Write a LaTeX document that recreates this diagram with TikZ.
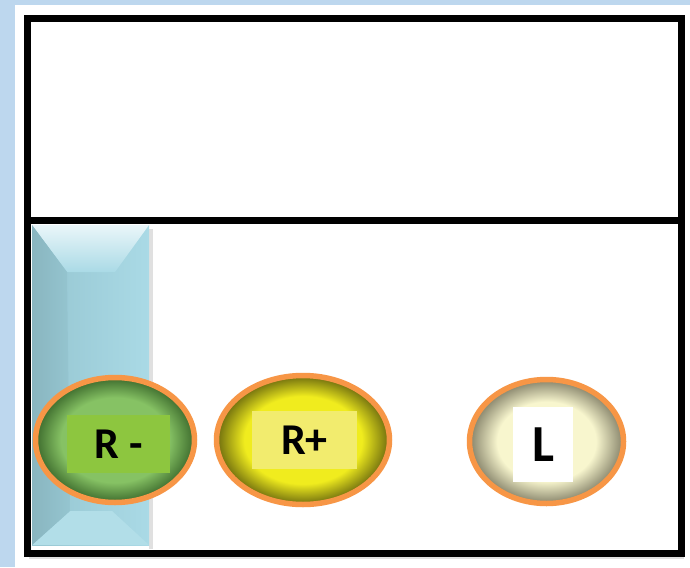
\documentclass[tikz,border=0pt]{standalone}
\usepackage{fontspec}
\setmainfont{Carlito}
\usetikzlibrary{shapes.geometric}
\definecolor{bgblue}{HTML}{BDD7EE}
\definecolor{orangeC}{HTML}{F79646}
\definecolor{gIn}{HTML}{86C264}
\definecolor{gOut}{HTML}{3D6B2D}
\definecolor{yIn}{HTML}{F0EC1E}
\definecolor{yOut}{HTML}{6E6C0E}
\definecolor{cIn}{HTML}{F8F6CE}
\definecolor{cOut}{HTML}{86836A}
\definecolor{gLab}{HTML}{8DC63F}
\definecolor{yLab}{HTML}{F2EC6E}
\definecolor{bvBody}{HTML}{AADAE6}
\definecolor{bvDark}{HTML}{95C5D0}
\definecolor{bvLight}{HTML}{EAF6F9}
\definecolor{bvBot}{HTML}{B2DEE8}
\pgfdeclareradialshading{ballgreen}{\pgfpoint{0bp}{0bp}}{color(0bp)=(gIn); color(17bp)=(gIn); color(25bp)=(gOut); color(50bp)=(gOut)}
\pgfdeclareradialshading{ballyellow}{\pgfpoint{0bp}{0bp}}{color(0bp)=(yIn); color(17bp)=(yIn); color(25bp)=(yOut); color(50bp)=(yOut)}
\pgfdeclareradialshading{ballcream}{\pgfpoint{0bp}{0bp}}{color(0bp)=(cIn); color(16bp)=(cIn); color(25bp)=(cOut); color(50bp)=(cOut)}
\tikzset{
  ball/.style={ellipse, draw=orangeC, line width=5.5pt, inner sep=0pt},
  labbox/.style={rectangle, inner sep=0pt, font=\bfseries\fontsize{44}{44}\selectfont},
  frameline/.style={line width=7pt, black},
}
\begin{document}
\begin{tikzpicture}[x=1pt,y=-1pt]
\useasboundingbox (0,0) rectangle (690,567);
\fill[bgblue] (0,0) rectangle (690,567);
\fill[white] (15,5) rectangle (690,567);
% soft shadow under frame
\fill[black!12] (29,556) rectangle (684,559);
% bevel bar
\fill[black!12] (149,229) rectangle (153,549);
\shade[left color=bvDark, right color=bvBody] (32,225) rectangle (149,545);
\shade[top color=bvLight, bottom color=bvBody] (32,225) -- (149,225) -- (115,272) -- (67,272) -- cycle;
\fill[bvBot] (32,545) -- (149,545) -- (112,511) -- (70,511) -- cycle;
\shade[left color=bvDark!92!black, right color=bvDark] (32,225) -- (67,272) -- (70,511) -- (32,545) -- cycle;
% frame
\draw[frameline] (27.5,19) rectangle (681,553);
\draw[frameline] (27.5,220) -- (681,220);
% balls
\node[ball, shading=ballgreen, minimum width=159pt, minimum height=125pt] (rm) at (115,440) {};
\node[ball, shading=ballyellow, minimum width=173pt, minimum height=129pt] (rp) at (303,440) {};
\node[ball, shading=ballcream, minimum width=154pt, minimum height=124pt] (l) at (546.5,441.5) {};
% labels
\node[labbox, fill=gLab, minimum width=103pt, minimum height=58pt] (rmlab) at (118.5,444) {R -};
\node[labbox, fill=yLab, minimum width=105pt, minimum height=58pt] (rplab) at (304.5,440) {R+};
\node[labbox, fill=white, minimum width=60pt, minimum height=75pt, font=\bfseries\fontsize{52}{52}\selectfont] (llab) at (543,444.5) {L};
\end{tikzpicture}
\end{document}
